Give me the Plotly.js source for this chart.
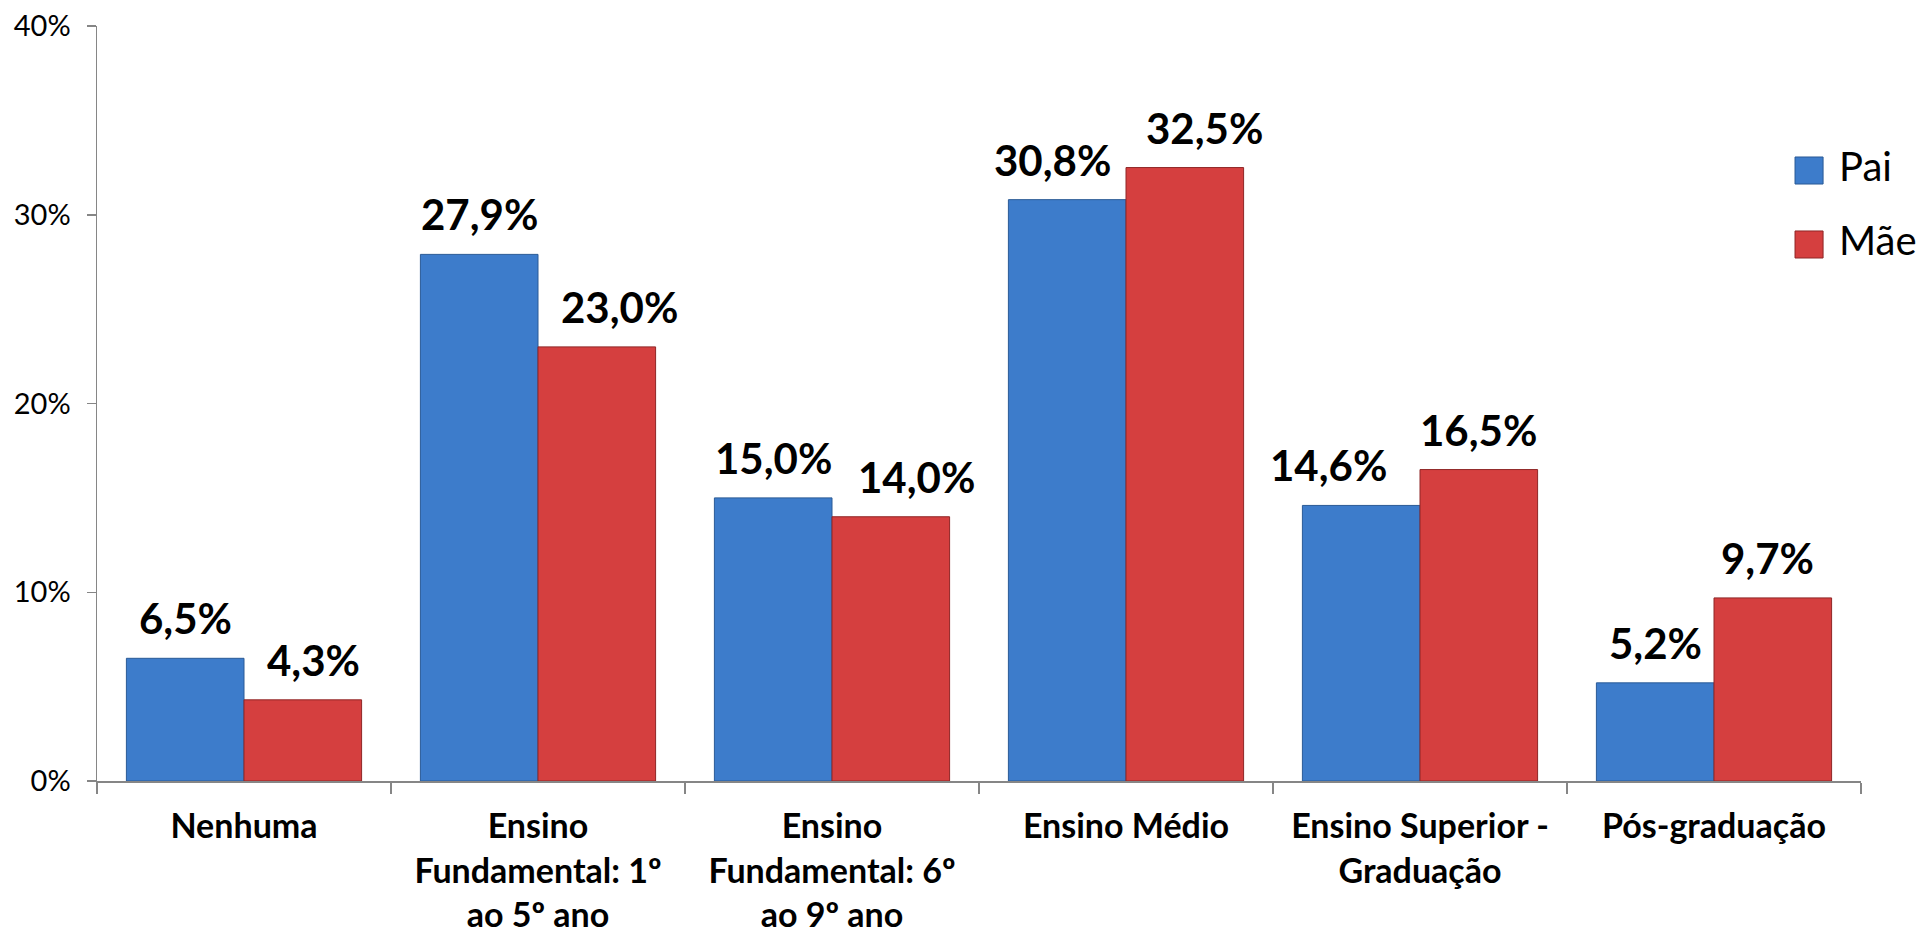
<!DOCTYPE html>
<html>
<head>
<meta charset="utf-8">
<script src="https://cdn.plot.ly/plotly-3.0.1.min.js"></script>
<style>
  html, body { margin: 0; padding: 0; background: #fff; }
  #chart { width: 1926px; height: 935px; }
</style>
</head>
<body>
<div id="chart"></div>
<script>
const categories = [
  "Nenhuma",
  "Ensino<br>Fundamental: 1º<br>ao 5º ano",
  "Ensino<br>Fundamental: 6º<br>ao 9º ano",
  "Ensino Médio",
  "Ensino Superior -<br>Graduação",
  "Pós-graduação"
];
const paiValues = [6.5, 27.9, 15.0, 30.8, 14.6, 5.2];
const maeValues = [4.3, 23.0, 14.0, 32.5, 16.5, 9.7];
const seriesNames = ["Pai", "Mãe"];
const yTicks = [0, 10, 20, 30, 40];

// label nudges (px) as placed in the original chart
const paiLabelNudge = [0, 0, 0, -15, -33, 0];
const maeLabelNudge = [11, 23, 26, 20, 0, -5];

const blue = "#3d7ccb";
const blueEdge = "#2a5a96";
const red = "#d53f3f";
const redEdge = "#8f2626";

function fmt(v) { return v.toFixed(1).replace(".", ",") + "%"; }

const traces = [
  {
    type: "bar", name: seriesNames[0], x: categories, y: paiValues,
    marker: { color: blue, line: { color: blueEdge, width: 1 } },
    hoverinfo: "none", showlegend: false
  },
  {
    type: "bar", name: seriesNames[1], x: categories, y: maeValues,
    marker: { color: red, line: { color: redEdge, width: 1 } },
    hoverinfo: "none", showlegend: false
  }
];

const barShift = 58.6;
const labelFont = { family: "Lato, sans-serif", size: 42, color: "#000", weight: "bold" };
const annotations = [];
categories.forEach((c, i) => {
  annotations.push({
    x: c, y: paiValues[i], xref: "x", yref: "y", text: fmt(paiValues[i]),
    showarrow: false, xshift: -barShift + paiLabelNudge[i], yshift: 13, yanchor: "bottom", font: labelFont
  });
  annotations.push({
    x: c, y: maeValues[i], xref: "x", yref: "y", text: fmt(maeValues[i]),
    showarrow: false, xshift: barShift + maeLabelNudge[i], yshift: 13, yanchor: "bottom", font: labelFont
  });
});

// custom legend
const legendColors = [[blue, blueEdge], [red, redEdge]];
const legendY = [[0.8265, 0.7907], [0.7285, 0.6927]];
const shapes = [];
seriesNames.forEach((n, k) => {
  shapes.push({
    type: "rect", xref: "paper", yref: "paper",
    x0: 0.9626, x1: 0.9785, y0: legendY[k][1], y1: legendY[k][0],
    fillcolor: legendColors[k][0], line: { color: legendColors[k][1], width: 1 }
  });
  annotations.push({
    xref: "paper", yref: "paper", x: 0.9864, y: (legendY[k][0] + legendY[k][1]) / 2 + 0.006,
    xanchor: "left", yanchor: "middle", text: n, showarrow: false,
    font: { family: "Lato, sans-serif", size: 40, color: "#000" }
  });
});

const layout = {
  width: 1926, height: 935,
  margin: { l: 97, r: 65, t: 26, b: 154 },
  paper_bgcolor: "#fff", plot_bgcolor: "#fff",
  barmode: "group", bargap: 0.2, bargroupgap: 0,
  showlegend: false,
  xaxis: {
    type: "category",
    showline: true, linecolor: "#868686", linewidth: 1.5,
    ticks: "outside", tickson: "boundaries", ticklen: 11, tickcolor: "#868686", tickwidth: 1.5,
    showgrid: false, zeroline: false,
    tickfont: { family: "Lato, sans-serif", size: 34, color: "#000", weight: "bold" },
    ticklabelstandoff: 15
  },
  yaxis: {
    range: [0, 40], tickvals: yTicks, ticktext: yTicks.map(v => v + "%"),
    showline: true, linecolor: "#868686", linewidth: 1.5,
    ticks: "outside", ticklen: 9, tickcolor: "#868686", tickwidth: 1.5,
    showgrid: false, zeroline: false,
    tickfont: { family: "Lato, sans-serif", size: 29, color: "#000" },
    ticklabelstandoff: 10
  },
  annotations: annotations,
  shapes: shapes
};

Plotly.newPlot("chart", traces, layout, { staticPlot: true, displayModeBar: false });
</script>
</body>
</html>
